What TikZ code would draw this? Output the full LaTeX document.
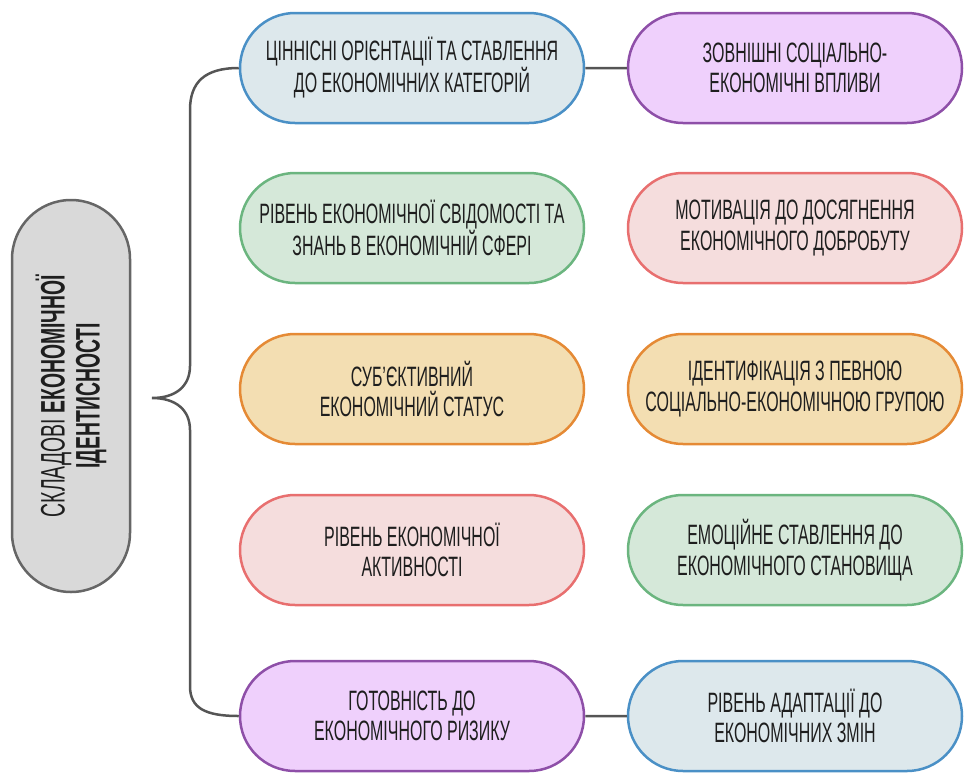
\documentclass[tikz,border=0pt]{standalone}
\usepackage{fontspec}
\setmainfont[FakeStretch=0.57]{Liberation Sans}
\usetikzlibrary{shapes.misc}

\definecolor{bluedraw}{HTML}{4A90C6}
\definecolor{bluefill}{HTML}{DDE8EC}
\definecolor{purpledraw}{HTML}{8E4FA8}
\definecolor{purplefill}{HTML}{EFD0FC}
\definecolor{greendraw}{HTML}{6BB57F}
\definecolor{greenfill}{HTML}{D5E8D9}
\definecolor{reddraw}{HTML}{E86F6F}
\definecolor{redfill}{HTML}{F5DDDD}
\definecolor{orangedraw}{HTML}{E58A35}
\definecolor{orangefill}{HTML}{F3DEB2}
\definecolor{graydraw}{HTML}{666666}
\definecolor{grayfill}{HTML}{D9D9D9}
\definecolor{linkgray}{HTML}{555555}
\definecolor{textdark}{HTML}{1E1E1E}

\begin{document}
\begin{tikzpicture}[ x=1pt, y=-1pt, pill/.style={ rounded rectangle,
    draw, line width=2.5pt, align=center, inner sep=0pt,
    minimum height=110pt, text=textdark,
    font=\fontsize{28}{30.5}\selectfont },
    leftpill/.style={ pill, minimum width=344pt }, rightpill/.style={
    pill, minimum width=334pt }, bluebox/.style={ draw=bluedraw,
    fill=bluefill }, purplebox/.style={ draw=purpledraw,
    fill=purplefill }, greenbox/.style={ draw=greendraw,
    fill=greenfill }, redbox/.style={ draw=reddraw, fill=redfill },
    orangebox/.style={ draw=orangedraw, fill=orangefill },
    link/.style={ draw=linkgray, line width=2.5pt } ]
  \useasboundingbox (0,0) rectangle (964,774);
  \node[pill, rotate=90, minimum width=392pt, minimum height=118pt,
    draw=graydraw, fill=grayfill, font=\fontsize{34}{35}\selectfont]
    (main) at (71,396)
    {СКЛАДОВІ \textbf{ЕКОНОМІЧНОЇ}\\\textbf{ІДЕНТИСНОСТІ}};
  % left column
  \foreach \y/\n/\s/\t in {68/1/bluebox/{ЦІННІСНІ ОРІЄНТАЦІЇ ТА СТАВЛЕННЯ\\ДО ЕКОНОМІЧНИХ КАТЕГОРІЙ},
    228/2/greenbox/{РІВЕНЬ ЕКОНОМІЧНОЇ СВІДОМОСТІ ТА\\ЗНАНЬ В ЕКОНОМІЧНІЙ СФЕРІ},
    389/3/orangebox/{СУБ'ЄКТИВНИЙ\\ЕКОНОМІЧНИЙ СТАТУС},
    550/4/redbox/{РІВЕНЬ ЕКОНОМІЧНОЇ\\АКТИВНОСТІ},
    716/5/purplebox/{ГОТОВНІСТЬ ДО\\ЕКОНОМІЧНОГО РИЗИКУ}}
  \node[leftpill, \s] (l\n) at (412,\y) {\t};
  % right column
  \foreach \y/\n/\s/\t in {68/1/purplebox/{ЗОВНІШНІ СОЦІАЛЬНО-\\ЕКОНОМІЧНІ ВПЛИВИ},
    228/2/redbox/{МОТИВАЦІЯ ДО ДОСЯГНЕННЯ\\ЕКОНОМІЧНОГО ДОБРОБУТУ},
    389/3/orangebox/{ІДЕНТИФІКАЦІЯ З ПЕВНОЮ\\СОЦІАЛЬНО-ЕКОНОМІЧНОЮ ГРУПОЮ},
    550/4/greenbox/{ЕМОЦІЙНЕ СТАВЛЕННЯ ДО\\ЕКОНОМІЧНОГО СТАНОВИЩА},
    716/5/bluebox/{РІВЕНЬ АДАПТАЦІЇ ДО\\ЕКОНОМІЧНИХ ЗМІН}}
  \node[rightpill, \s] (r\n) at (795,\y) {\t};
  \draw[link] (l1) -- (r1);
  \draw[link] (l5) -- (r5);
  % brace
  \coordinate (tip) at (152,398);
  \draw[link] (l1.west) .. controls (205,68) and (190,82) .. (190,110)
    -- (190,366) .. controls (190,386) and (176,398) .. (tip)
    .. controls (176,398) and (190,410) .. (190,430) -- (190,686)
    .. controls (190,708) and (205,716) .. (l5.west);
\end{tikzpicture}
\end{document}
